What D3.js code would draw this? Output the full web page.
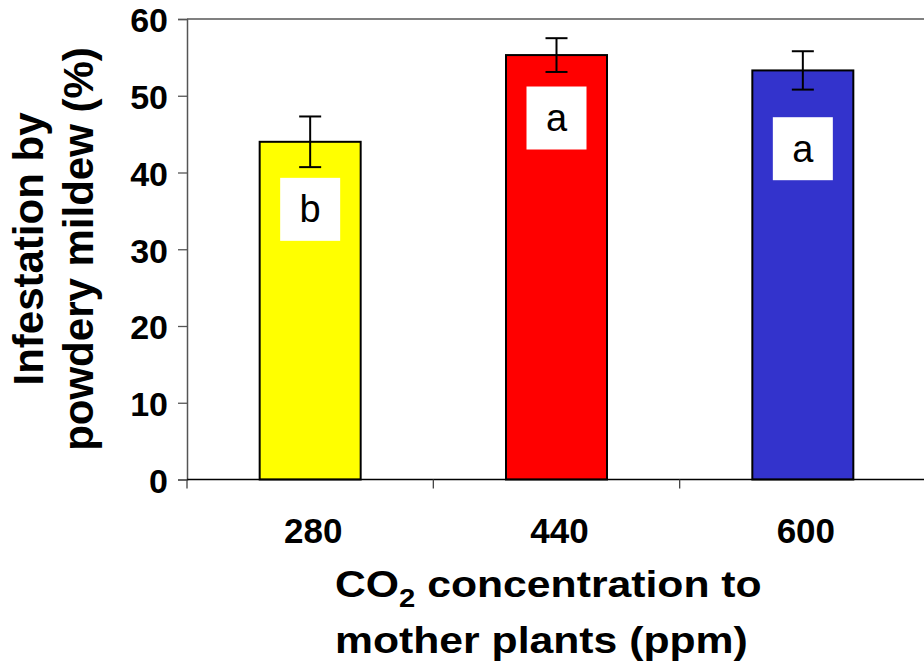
<!DOCTYPE html>
<html>
<head>
<meta charset="utf-8">
<script src="https://cdn.jsdelivr.net/npm/d3@7"></script>
<style>
  html, body { margin: 0; padding: 0; background: #fff; }
  svg { display: block; }
  text { font-family: "Liberation Sans", Arial, Helvetica, sans-serif; }
</style>
</head>
<body>
<svg id="chart" width="924" height="672"></svg>
<script>
// CO2 levels given to the mother plants (ppm)
const categories = ["280", "440", "600"];
// Mean infestation by powdery mildew (%)
const infestation = [44.0, 55.3, 53.3];
// Standard error of each mean
const stdError = [3.3, 2.2, 2.5];
// Significance letters and the level (%) each letter box is centred on
const letters = ["b", "a", "a"];
const letterAt = [35.2, 47.1, 43.1];
// Y axis tick values
const yTicks = [0, 10, 20, 30, 40, 50, 60];
const barColors = ["#FFFF00", "#FF0000", "#3333CC"];

const svg = d3.select("#chart");

const x = d3.scaleBand()
  .domain(categories)
  .range([187, 926])
  .paddingInner(0.59)
  .paddingOuter(0.295);

const y = d3.scaleLinear()
  .domain([0, 60])
  .range([479.5, 19]);

// Top frame line
svg.append("line")
  .attr("x1", x.range()[0]).attr("x2", 924)
  .attr("y1", y(60)).attr("y2", y(60))
  .attr("stroke", "#808080").attr("stroke-width", 2);

// Y axis
const yAxis = svg.append("g")
  .attr("transform", `translate(${x.range()[0]},0)`)
  .call(d3.axisLeft(y).tickValues(yTicks).tickSize(9).tickPadding(10).tickFormat(d3.format("d")));
yAxis.select(".domain").attr("stroke", "#555").attr("stroke-width", 1.5);
yAxis.selectAll(".tick line").attr("stroke", "#555").attr("stroke-width", 1.3);
yAxis.selectAll(".tick text")
  .attr("font-size", 34).attr("font-weight", "bold").attr("fill", "#000")
  .attr("dy", "0.38em")
  .style("font-family", "'Liberation Sans', Arial, sans-serif");

// Bars
svg.append("g").selectAll("rect")
  .data(categories)
  .join("rect")
  .attr("x", d => x(d))
  .attr("y", (d, i) => y(infestation[i]))
  .attr("width", x.bandwidth())
  .attr("height", (d, i) => y(0) - y(infestation[i]))
  .attr("fill", (d, i) => barColors[i])
  .attr("stroke", "#000")
  .attr("stroke-width", 2);

// Error bars
const capHalf = 11;
const err = svg.append("g").attr("stroke", "#000").attr("stroke-width", 2);
categories.forEach((c, i) => {
  const cx = x(c) + x.bandwidth() / 2;
  const hi = y(infestation[i] + stdError[i]);
  const lo = y(infestation[i] - stdError[i]);
  err.append("line").attr("x1", cx).attr("x2", cx).attr("y1", hi).attr("y2", lo);
  err.append("line").attr("x1", cx - capHalf).attr("x2", cx + capHalf).attr("y1", hi).attr("y2", hi);
  err.append("line").attr("x1", cx - capHalf).attr("x2", cx + capHalf).attr("y1", lo).attr("y2", lo);
});

// Significance letters on white boxes
const boxW = 60, boxH = 63;
const lab = svg.append("g");
categories.forEach((c, i) => {
  const cx = x(c) + x.bandwidth() / 2;
  const cy = y(letterAt[i]);
  lab.append("rect")
    .attr("x", cx - boxW / 2).attr("y", cy - boxH / 2)
    .attr("width", boxW).attr("height", boxH)
    .attr("fill", "#fff");
  lab.append("text")
    .attr("x", cx).attr("y", cy + 13)
    .attr("text-anchor", "middle")
    .attr("font-size", 38)
    .attr("fill", "#000")
    .text(letters[i]);
});

// X axis line
const x0 = x.range()[0];
svg.append("line")
  .attr("x1", x0).attr("x2", 924)
  .attr("y1", y(0)).attr("y2", y(0))
  .attr("stroke", "#000").attr("stroke-width", 1.6);

// X ticks sit on the category boundaries
const boundaries = d3.range(categories.length + 1).map(i => x0 + i * x.step());
svg.append("g").selectAll("line")
  .data(boundaries)
  .join("line")
  .attr("x1", d => d).attr("x2", d => d)
  .attr("y1", y(0)).attr("y2", y(0) + 9)
  .attr("stroke", "#444").attr("stroke-width", 1.3);

// X tick labels
svg.append("g").selectAll("text")
  .data(categories)
  .join("text")
  .attr("x", d => x(d) + x.bandwidth() / 2 + 3)
  .attr("y", 543)
  .attr("text-anchor", "middle")
  .attr("font-size", 35)
  .attr("font-weight", "bold")
  .text(d => d);

// X axis title (two lines)
const xt = svg.append("g").attr("transform", "translate(335,0) scale(1.17,1)");
const xt1 = xt.append("text")
  .attr("x", 0).attr("y", 597)
  .attr("font-size", 36.5).attr("font-weight", "bold");
xt1.append("tspan").text("CO");
xt1.append("tspan").attr("font-size", 25).attr("dy", 10).text("2");
xt1.append("tspan").attr("dy", -10).text(" concentration to");
xt.append("text")
  .attr("x", 0).attr("y", 653)
  .attr("font-size", 36.5).attr("font-weight", "bold")
  .text("mother plants (ppm)");

// Y axis title (two rotated lines)
const yt = svg.append("g").attr("transform", "translate(43,249) rotate(-90)");
yt.append("text")
  .attr("x", 0).attr("y", 0)
  .attr("text-anchor", "middle")
  .attr("font-size", 42).attr("font-weight", "bold")
  .text("Infestation by");
yt.append("text")
  .attr("x", 0).attr("y", 50)
  .attr("text-anchor", "middle")
  .attr("font-size", 42).attr("font-weight", "bold")
  .text("powdery mildew (%)");
</script>
</body>
</html>
